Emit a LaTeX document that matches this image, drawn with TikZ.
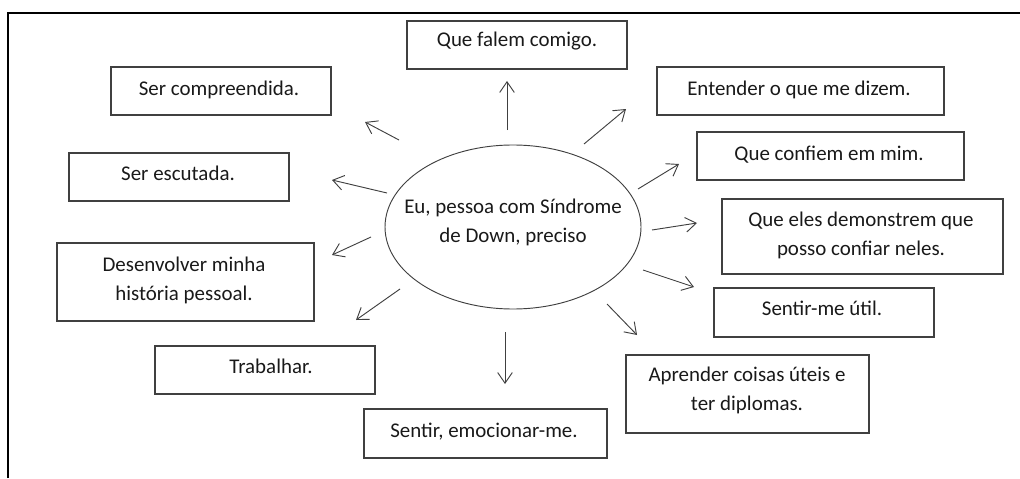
\documentclass[tikz,border=0pt]{standalone}
\usepackage{fontspec}
\setmainfont{Carlito}
\usetikzlibrary{arrows.meta}
\begin{document}
\begin{tikzpicture}[x=0.75pt,y=-0.75pt,
  box/.style={draw=black!75,line width=0.9pt},
  txt/.style={anchor=base,align=center,inner sep=0pt,font=\fontsize{15.7pt}{21.5pt}\selectfont,text=black!90},
  arr/.style={draw=black!75,line width=0.7pt,-{Straight Barb[length=8pt,width=11pt,line width=0.7pt]}},
  frame/.style={line width=1.6pt}]
\useasboundingbox (0,0) rectangle (1020,478);
% frame
\draw[frame] (8,478) -- (8,13) -- (1020,13);
% centre
\draw[black!75,line width=0.7pt] (513,227) ellipse [x radius=128, y radius=82];
\node[txt] (c) at (513,242) {Eu, pessoa com Síndrome\\de Down, preciso};
% boxes
\draw[box] (111,67) rectangle (331,115);
\node[txt] (t1) at (219,95) {Ser compreendida.};
\draw[box] (69,153) rectangle (289,201);
\node[txt] (t2) at (178,180) {Ser escutada.};
\draw[box] (57,243) rectangle (314,321);
\node[txt] (t3) at (184,300) {Desenvolver minha\\história pessoal.};
\draw[box] (155,346) rectangle (375,394);
\node[txt] (t4) at (271,373) {Trabalhar.};
\draw[box] (364,409) rectangle (607,458);
\node[txt] (t5) at (484,437) {Sentir, emocionar-me.};
\draw[box] (407,21) rectangle (627,69);
\node[txt] (t6) at (517,47) {Que falem comigo.};
\draw[box] (657,67) rectangle (944,115);
\node[txt] (t7) at (799,95) {Entender o que me dizem.};
\draw[box] (697,132) rectangle (964,180);
\node[txt] (t8) at (829,160) {Que confiem em mim.};
\draw[box] (722,199) rectangle (1003,274);
\node[txt] (t9) at (861,255) {Que eles demonstrem que\\posso confiar neles.};
\draw[box] (714,288) rectangle (934,337);
\node[txt] (t10) at (822,315) {Sentir-me útil.};
\draw[box] (626,355) rectangle (869,433);
\node[txt] (t11) at (747,410) {Aprender coisas úteis e\\ter diplomas.};
% arrow endpoints
\coordinate (s1) at (399,140); \coordinate (e1) at (365,122);
\coordinate (s2) at (387,193); \coordinate (e2) at (332,180);
\coordinate (s3) at (371,237); \coordinate (e3) at (332,255);
\coordinate (s4) at (400,289); \coordinate (e4) at (356,320);
\coordinate (s5) at (505,332); \coordinate (e5) at (505,384);
\coordinate (s6) at (507,130); \coordinate (e6) at (507,81);
\coordinate (s7) at (584,144); \coordinate (e7) at (626,109);
\coordinate (s8) at (638,189); \coordinate (e8) at (679,164);
\coordinate (s9) at (652,230); \coordinate (e9) at (697,223);
\coordinate (s10) at (643,270); \coordinate (e10) at (694,287);
\coordinate (s11) at (607,304); \coordinate (e11) at (637,335);
\foreach \i in {1,...,11} \draw[arr] (s\i) -- (e\i);
\end{tikzpicture}
\end{document}
